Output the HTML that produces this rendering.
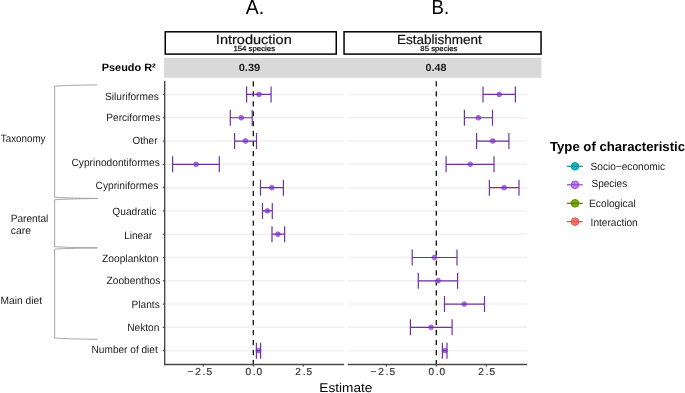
<!DOCTYPE html>
<html><head><meta charset="utf-8"><style>
html,body{margin:0;padding:0;background:#fff;width:685px;height:393px;overflow:hidden}
svg{display:block;font-family:"Liberation Sans",sans-serif}
svg{will-change:transform;text-rendering:geometricPrecision}
</style></head><body>
<svg width="685" height="393" viewBox="0 0 685 393">
<rect width="685" height="393" fill="#fff"/>
<rect x="164.1" y="57.8" width="377.3" height="20" fill="#d9d9d9"/>
<rect x="165.25" y="31.8" width="171" height="22.3" fill="#fff" stroke="#000" stroke-width="1.5"/>
<rect x="344.05" y="31.8" width="197" height="22.3" fill="#fff" stroke="#000" stroke-width="1.5"/>
<line x1="164.7" x2="344.1" y1="94.47" y2="94.47" stroke="#f0f0f0" stroke-width="1.5"/>
<line x1="347.7" x2="527.2" y1="94.47" y2="94.47" stroke="#f0f0f0" stroke-width="1.5"/>
<line x1="164.7" x2="344.1" y1="117.76" y2="117.76" stroke="#f0f0f0" stroke-width="1.5"/>
<line x1="347.7" x2="527.2" y1="117.76" y2="117.76" stroke="#f0f0f0" stroke-width="1.5"/>
<line x1="164.7" x2="344.1" y1="141.05" y2="141.05" stroke="#f0f0f0" stroke-width="1.5"/>
<line x1="347.7" x2="527.2" y1="141.05" y2="141.05" stroke="#f0f0f0" stroke-width="1.5"/>
<line x1="164.7" x2="344.1" y1="164.34" y2="164.34" stroke="#f0f0f0" stroke-width="1.5"/>
<line x1="347.7" x2="527.2" y1="164.34" y2="164.34" stroke="#f0f0f0" stroke-width="1.5"/>
<line x1="164.7" x2="344.1" y1="187.63" y2="187.63" stroke="#f0f0f0" stroke-width="1.5"/>
<line x1="347.7" x2="527.2" y1="187.63" y2="187.63" stroke="#f0f0f0" stroke-width="1.5"/>
<line x1="164.7" x2="344.1" y1="210.92" y2="210.92" stroke="#f0f0f0" stroke-width="1.5"/>
<line x1="347.7" x2="527.2" y1="210.92" y2="210.92" stroke="#f0f0f0" stroke-width="1.5"/>
<line x1="164.7" x2="344.1" y1="234.21" y2="234.21" stroke="#f0f0f0" stroke-width="1.5"/>
<line x1="347.7" x2="527.2" y1="234.21" y2="234.21" stroke="#f0f0f0" stroke-width="1.5"/>
<line x1="164.7" x2="344.1" y1="257.5" y2="257.5" stroke="#f0f0f0" stroke-width="1.5"/>
<line x1="347.7" x2="527.2" y1="257.5" y2="257.5" stroke="#f0f0f0" stroke-width="1.5"/>
<line x1="164.7" x2="344.1" y1="280.79" y2="280.79" stroke="#f0f0f0" stroke-width="1.5"/>
<line x1="347.7" x2="527.2" y1="280.79" y2="280.79" stroke="#f0f0f0" stroke-width="1.5"/>
<line x1="164.7" x2="344.1" y1="304.08" y2="304.08" stroke="#f0f0f0" stroke-width="1.5"/>
<line x1="347.7" x2="527.2" y1="304.08" y2="304.08" stroke="#f0f0f0" stroke-width="1.5"/>
<line x1="164.7" x2="344.1" y1="327.37" y2="327.37" stroke="#f0f0f0" stroke-width="1.5"/>
<line x1="347.7" x2="527.2" y1="327.37" y2="327.37" stroke="#f0f0f0" stroke-width="1.5"/>
<line x1="164.7" x2="344.1" y1="350.66" y2="350.66" stroke="#f0f0f0" stroke-width="1.5"/>
<line x1="347.7" x2="527.2" y1="350.66" y2="350.66" stroke="#f0f0f0" stroke-width="1.5"/>
<line x1="253.3" x2="253.3" y1="81.3" y2="364.5" stroke="#111" stroke-width="1.3" stroke-dasharray="5.2 4.75"/>
<line x1="436.3" x2="436.3" y1="81.3" y2="364.5" stroke="#111" stroke-width="1.3" stroke-dasharray="5.2 4.75"/>
<line x1="164.7" x2="164.7" y1="80.8" y2="365.15" stroke="#474747" stroke-width="1.35"/>
<line x1="164.04999999999998" x2="344.1" y1="364.5" y2="364.5" stroke="#474747" stroke-width="1.35"/>
<line x1="347.7" x2="527.2" y1="364.5" y2="364.5" stroke="#474747" stroke-width="1.35"/>
<line x1="162.79999999999998" x2="164.7" y1="94.47" y2="94.47" stroke="#474747" stroke-width="1.2"/>
<line x1="162.79999999999998" x2="164.7" y1="117.76" y2="117.76" stroke="#474747" stroke-width="1.2"/>
<line x1="162.79999999999998" x2="164.7" y1="141.05" y2="141.05" stroke="#474747" stroke-width="1.2"/>
<line x1="162.79999999999998" x2="164.7" y1="164.34" y2="164.34" stroke="#474747" stroke-width="1.2"/>
<line x1="162.79999999999998" x2="164.7" y1="187.63" y2="187.63" stroke="#474747" stroke-width="1.2"/>
<line x1="162.79999999999998" x2="164.7" y1="210.92" y2="210.92" stroke="#474747" stroke-width="1.2"/>
<line x1="162.79999999999998" x2="164.7" y1="234.21" y2="234.21" stroke="#474747" stroke-width="1.2"/>
<line x1="162.79999999999998" x2="164.7" y1="257.5" y2="257.5" stroke="#474747" stroke-width="1.2"/>
<line x1="162.79999999999998" x2="164.7" y1="280.79" y2="280.79" stroke="#474747" stroke-width="1.2"/>
<line x1="162.79999999999998" x2="164.7" y1="304.08" y2="304.08" stroke="#474747" stroke-width="1.2"/>
<line x1="162.79999999999998" x2="164.7" y1="327.37" y2="327.37" stroke="#474747" stroke-width="1.2"/>
<line x1="162.79999999999998" x2="164.7" y1="350.66" y2="350.66" stroke="#474747" stroke-width="1.2"/>
<line x1="203.3" x2="203.3" y1="364.5" y2="366.5" stroke="#474747" stroke-width="1.2"/>
<line x1="253.3" x2="253.3" y1="364.5" y2="366.5" stroke="#474747" stroke-width="1.2"/>
<line x1="303.3" x2="303.3" y1="364.5" y2="366.5" stroke="#474747" stroke-width="1.2"/>
<line x1="386.3" x2="386.3" y1="364.5" y2="366.5" stroke="#474747" stroke-width="1.2"/>
<line x1="436.3" x2="436.3" y1="364.5" y2="366.5" stroke="#474747" stroke-width="1.2"/>
<line x1="486.3" x2="486.3" y1="364.5" y2="366.5" stroke="#474747" stroke-width="1.2"/>
<circle cx="259" cy="94.47" r="2.45" fill="#b565f2" stroke="#8c48c8" stroke-width="0.6"/>
<path d="M246.6 94.47H271.1M246.6 86.47V102.47M271.1 86.47V102.47" stroke="#6e32a4" stroke-width="1.2" fill="none"/>
<circle cx="241.3" cy="117.76" r="2.45" fill="#b565f2" stroke="#8c48c8" stroke-width="0.6"/>
<path d="M230.3 117.76H252.2M230.3 109.76V125.76M252.2 109.76V125.76" stroke="#6e32a4" stroke-width="1.2" fill="none"/>
<circle cx="245.5" cy="141.05" r="2.45" fill="#b565f2" stroke="#8c48c8" stroke-width="0.6"/>
<path d="M234.6 141.05H256.5M234.6 133.05V149.05M256.5 133.05V149.05" stroke="#6e32a4" stroke-width="1.2" fill="none"/>
<circle cx="196.1" cy="164.34" r="2.45" fill="#b565f2" stroke="#8c48c8" stroke-width="0.6"/>
<path d="M172.6 164.34H219.3M172.6 156.34V172.34M219.3 156.34V172.34" stroke="#6e32a4" stroke-width="1.2" fill="none"/>
<circle cx="271.8" cy="187.63" r="2.45" fill="#b565f2" stroke="#8c48c8" stroke-width="0.6"/>
<path d="M260.5 187.63H283.4M260.5 179.63V195.63M283.4 179.63V195.63" stroke="#6e32a4" stroke-width="1.2" fill="none"/>
<circle cx="267.4" cy="210.92" r="2.45" fill="#b565f2" stroke="#8c48c8" stroke-width="0.6"/>
<path d="M262.5 210.92H272.3M262.5 202.92V218.92M272.3 202.92V218.92" stroke="#6e32a4" stroke-width="1.2" fill="none"/>
<circle cx="277.9" cy="234.21" r="2.45" fill="#b565f2" stroke="#8c48c8" stroke-width="0.6"/>
<path d="M272 234.21H284.6M272 226.21V242.21M284.6 226.21V242.21" stroke="#6e32a4" stroke-width="1.2" fill="none"/>
<circle cx="258.5" cy="350.66" r="2.45" fill="#b565f2" stroke="#8c48c8" stroke-width="0.6"/>
<path d="M256.4 350.66H260.6M256.4 342.66V358.66M260.6 342.66V358.66" stroke="#6e32a4" stroke-width="1.2" fill="none"/>
<circle cx="499.2" cy="94.47" r="2.45" fill="#b565f2" stroke="#8c48c8" stroke-width="0.6"/>
<path d="M483 94.47H515.4M483 86.47V102.47M515.4 86.47V102.47" stroke="#6e32a4" stroke-width="1.2" fill="none"/>
<circle cx="478.4" cy="117.76" r="2.45" fill="#b565f2" stroke="#8c48c8" stroke-width="0.6"/>
<path d="M464.4 117.76H492.5M464.4 109.76V125.76M492.5 109.76V125.76" stroke="#6e32a4" stroke-width="1.2" fill="none"/>
<circle cx="492.8" cy="141.05" r="2.45" fill="#b565f2" stroke="#8c48c8" stroke-width="0.6"/>
<path d="M476.6 141.05H508.9M476.6 133.05V149.05M508.9 133.05V149.05" stroke="#6e32a4" stroke-width="1.2" fill="none"/>
<circle cx="470.2" cy="164.34" r="2.45" fill="#b565f2" stroke="#8c48c8" stroke-width="0.6"/>
<path d="M446.1 164.34H494M446.1 156.34V172.34M494 156.34V172.34" stroke="#6e32a4" stroke-width="1.2" fill="none"/>
<circle cx="504.1" cy="187.63" r="2.45" fill="#b565f2" stroke="#8c48c8" stroke-width="0.6"/>
<path d="M489.4 187.63H519M489.4 179.63V195.63M519 179.63V195.63" stroke="#6e32a4" stroke-width="1.2" fill="none"/>
<circle cx="434.5" cy="257.5" r="2.45" fill="#b565f2" stroke="#8c48c8" stroke-width="0.6"/>
<path d="M412.2 257.5H457M412.2 249.5V265.5M457 249.5V265.5" stroke="#6e32a4" stroke-width="1.2" fill="none"/>
<circle cx="438.1" cy="280.79" r="2.45" fill="#b565f2" stroke="#8c48c8" stroke-width="0.6"/>
<path d="M418.3 280.79H457.6M418.3 272.79V288.79M457.6 272.79V288.79" stroke="#6e32a4" stroke-width="1.2" fill="none"/>
<circle cx="464.3" cy="304.08" r="2.45" fill="#b565f2" stroke="#8c48c8" stroke-width="0.6"/>
<path d="M444.5 304.08H484.5M444.5 296.08V312.08M484.5 296.08V312.08" stroke="#6e32a4" stroke-width="1.2" fill="none"/>
<circle cx="431.1" cy="327.37" r="2.45" fill="#b565f2" stroke="#8c48c8" stroke-width="0.6"/>
<path d="M410.4 327.37H452.1M410.4 319.37V335.37M452.1 319.37V335.37" stroke="#6e32a4" stroke-width="1.2" fill="none"/>
<circle cx="445" cy="350.66" r="2.45" fill="#b565f2" stroke="#8c48c8" stroke-width="0.6"/>
<path d="M442.4 350.66H447M442.4 342.66V358.66M447 342.66V358.66" stroke="#6e32a4" stroke-width="1.2" fill="none"/>
<path d="M97.3 84.9 C80 85.10000000000001 60 85.60000000000001 54.6 86.2 V197.2 C60 197.79999999999998 80 198.29999999999998 97.3 198.5" stroke="#9a9a9a" stroke-width="0.9" fill="none"/>
<path d="M97.3 198.5 C80 198.70000000000002 60 199.20000000000002 54.6 199.8 V246.6 C60 247.2 80 247.7 97.3 247.9" stroke="#9a9a9a" stroke-width="0.9" fill="none"/>
<path d="M97.3 247.89999999999998 C80 248.1 60 248.6 54.6 249.2 V338 C60 338.6 80 339.1 97.3 339.3" stroke="#9a9a9a" stroke-width="0.9" fill="none"/>
<text x="245.80" y="13.50" font-size="20.30" fill="#000" textLength="18.34" lengthAdjust="spacingAndGlyphs">A.</text>
<text x="431.51" y="13.50" font-size="20.30" fill="#000" textLength="17.55" lengthAdjust="spacingAndGlyphs">B.</text>
<text x="215.89" y="43.50" font-size="13.20" stroke="#111" stroke-width="0.2" fill="#111" textLength="75.86" lengthAdjust="spacingAndGlyphs">Introduction</text>
<text x="233.41" y="51.30" font-size="7.30" stroke="#111" stroke-width="0.25" fill="#111" textLength="41.67" lengthAdjust="spacingAndGlyphs">154 species</text>
<text x="396.92" y="43.50" font-size="13.20" stroke="#111" stroke-width="0.2" fill="#111" textLength="84.86" lengthAdjust="spacingAndGlyphs">Establishment</text>
<text x="420.35" y="51.30" font-size="7.30" stroke="#111" stroke-width="0.25" fill="#111" textLength="37.13" lengthAdjust="spacingAndGlyphs">85 species</text>
<text x="101.79" y="71.00" font-size="10.70" font-weight="bold" fill="#000" textLength="53.93" lengthAdjust="spacingAndGlyphs">Pseudo R²</text>
<text x="238.66" y="70.90" font-size="10.30" font-weight="bold" fill="#1a1a1a" textLength="21.65" lengthAdjust="spacingAndGlyphs">0.39</text>
<text x="425.47" y="70.90" font-size="10.30" font-weight="bold" fill="#1a1a1a" textLength="20.97" lengthAdjust="spacingAndGlyphs">0.48</text>
<text x="105.04" y="100.30" font-size="10.50" fill="#222" textLength="53.70" lengthAdjust="spacingAndGlyphs">Siluriformes</text>
<text x="106.29" y="120.80" font-size="10.50" fill="#222" textLength="53.96" lengthAdjust="spacingAndGlyphs">Perciformes</text>
<text x="132.55" y="143.60" font-size="10.50" fill="#222" textLength="24.91" lengthAdjust="spacingAndGlyphs">Other</text>
<text x="71.49" y="165.70" font-size="10.50" fill="#222" textLength="88.27" lengthAdjust="spacingAndGlyphs">Cyprinodontiformes</text>
<text x="95.59" y="189.00" font-size="10.50" fill="#222" textLength="62.65" lengthAdjust="spacingAndGlyphs">Cypriniformes</text>
<text x="112.34" y="214.70" font-size="10.50" fill="#222" textLength="44.22" lengthAdjust="spacingAndGlyphs">Quadratic</text>
<text x="124.20" y="238.70" font-size="10.50" fill="#222" textLength="27.90" lengthAdjust="spacingAndGlyphs">Linear</text>
<text x="101.99" y="261.60" font-size="10.50" fill="#222" textLength="56.46" lengthAdjust="spacingAndGlyphs">Zooplankton</text>
<text x="106.49" y="283.50" font-size="10.50" fill="#222" textLength="53.88" lengthAdjust="spacingAndGlyphs">Zoobenthos</text>
<text x="131.59" y="307.90" font-size="10.50" fill="#222" textLength="28.16" lengthAdjust="spacingAndGlyphs">Plants</text>
<text x="127.19" y="331.00" font-size="10.50" fill="#222" textLength="32.10" lengthAdjust="spacingAndGlyphs">Nekton</text>
<text x="91.59" y="353.20" font-size="10.50" fill="#222" textLength="66.20" lengthAdjust="spacingAndGlyphs">Number of diet</text>
<text x="0.80" y="141.80" font-size="10.50" fill="#1a1a1a" textLength="44.67" lengthAdjust="spacingAndGlyphs">Taxonomy</text>
<text x="10.69" y="221.70" font-size="10.50" fill="#1a1a1a" textLength="37.66" lengthAdjust="spacingAndGlyphs">Parental</text>
<text x="10.78" y="234.30" font-size="10.50" fill="#1a1a1a" textLength="20.19" lengthAdjust="spacingAndGlyphs">care</text>
<text x="0.58" y="303.80" font-size="10.50" fill="#1a1a1a" textLength="41.50" lengthAdjust="spacingAndGlyphs">Main diet</text>
<text x="319.31" y="391.90" font-size="12.80" fill="#000" textLength="53.11" lengthAdjust="spacingAndGlyphs">Estimate</text>
<text x="549.97" y="151.40" font-size="13.20" font-weight="bold" fill="#000" textLength="135.07" lengthAdjust="spacingAndGlyphs">Type of characteristic</text>
<text x="590.54" y="169.80" font-size="10.50" fill="#1a1a1a" textLength="74.51" lengthAdjust="spacingAndGlyphs">Socio−economic</text>
<text x="591.45" y="187.20" font-size="10.50" fill="#1a1a1a" textLength="35.78" lengthAdjust="spacingAndGlyphs">Species</text>
<text x="588.98" y="207.00" font-size="10.50" fill="#1a1a1a" textLength="46.72" lengthAdjust="spacingAndGlyphs">Ecological</text>
<text x="590.59" y="225.70" font-size="10.50" fill="#1a1a1a" textLength="47.16" lengthAdjust="spacingAndGlyphs">Interaction</text>
<text x="195.30" y="374.80" font-size="10.1" fill="#333" stroke="#333" stroke-width="0.2">2</text>
<text x="202.79" y="374.80" font-size="10.1" fill="#333" stroke="#333" stroke-width="0.2">.</text>
<text x="206.50" y="374.80" font-size="10.1" fill="#333" stroke="#333" stroke-width="0.2">5</text>
<text x="187.40" y="374.80" font-size="10.1" fill="#333" stroke="#333" stroke-width="0.2">−</text>
<text x="245.40" y="374.80" font-size="10.1" fill="#333" stroke="#333" stroke-width="0.2">0</text>
<text x="252.79" y="374.80" font-size="10.1" fill="#333" stroke="#333" stroke-width="0.2">.</text>
<text x="256.50" y="374.80" font-size="10.1" fill="#333" stroke="#333" stroke-width="0.2">0</text>
<text x="295.30" y="374.80" font-size="10.1" fill="#333" stroke="#333" stroke-width="0.2">2</text>
<text x="302.79" y="374.80" font-size="10.1" fill="#333" stroke="#333" stroke-width="0.2">.</text>
<text x="306.50" y="374.80" font-size="10.1" fill="#333" stroke="#333" stroke-width="0.2">5</text>
<text x="378.30" y="374.80" font-size="10.1" fill="#333" stroke="#333" stroke-width="0.2">2</text>
<text x="385.79" y="374.80" font-size="10.1" fill="#333" stroke="#333" stroke-width="0.2">.</text>
<text x="389.50" y="374.80" font-size="10.1" fill="#333" stroke="#333" stroke-width="0.2">5</text>
<text x="370.40" y="374.80" font-size="10.1" fill="#333" stroke="#333" stroke-width="0.2">−</text>
<text x="428.40" y="374.80" font-size="10.1" fill="#333" stroke="#333" stroke-width="0.2">0</text>
<text x="435.79" y="374.80" font-size="10.1" fill="#333" stroke="#333" stroke-width="0.2">.</text>
<text x="439.50" y="374.80" font-size="10.1" fill="#333" stroke="#333" stroke-width="0.2">0</text>
<text x="478.30" y="374.80" font-size="10.1" fill="#333" stroke="#333" stroke-width="0.2">2</text>
<text x="485.79" y="374.80" font-size="10.1" fill="#333" stroke="#333" stroke-width="0.2">.</text>
<text x="489.50" y="374.80" font-size="10.1" fill="#333" stroke="#333" stroke-width="0.2">5</text>
<line x1="567" x2="582.8" y1="166.3" y2="166.3" stroke="#1b8486" stroke-width="1.2"/>
<circle cx="575" cy="166.3" r="3.85" fill="#00bfc4" stroke="#1b8486" stroke-width="0.8"/>
<line x1="571.3" x2="578.7" y1="166.3" y2="166.3" stroke="#1b8486" stroke-width="1.1"/>
<line x1="567" x2="582.8" y1="184.8" y2="184.8" stroke="#8a45c8" stroke-width="1.2"/>
<circle cx="575" cy="184.8" r="3.85" fill="#c77cff" stroke="#8a45c8" stroke-width="0.8"/>
<line x1="571.3" x2="578.7" y1="184.8" y2="184.8" stroke="#8a45c8" stroke-width="1.1"/>
<line x1="567" x2="582.8" y1="203.3" y2="203.3" stroke="#4f7a00" stroke-width="1.2"/>
<circle cx="575" cy="203.3" r="3.85" fill="#7cae00" stroke="#4f7a00" stroke-width="0.8"/>
<line x1="571.3" x2="578.7" y1="203.3" y2="203.3" stroke="#4f7a00" stroke-width="1.1"/>
<line x1="567" x2="582.8" y1="221.7" y2="221.7" stroke="#d0504a" stroke-width="1.2"/>
<circle cx="575" cy="221.7" r="3.85" fill="#f8766d" stroke="#d0504a" stroke-width="0.8"/>
<line x1="571.3" x2="578.7" y1="221.7" y2="221.7" stroke="#d0504a" stroke-width="1.1"/>
</svg>
</body></html>
